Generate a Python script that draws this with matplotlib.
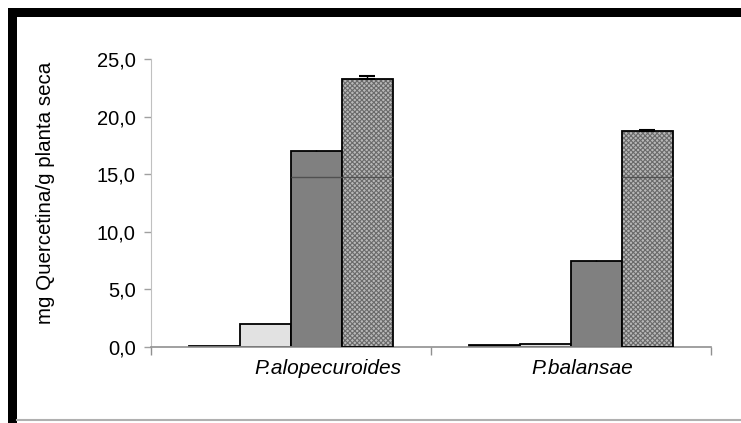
# Quercetina content per species - bar chart
import matplotlib.pyplot as plt
import matplotlib.transforms as mtransforms
import numpy as np

plt.rcParams['font.family'] = ['Liberation Sans', 'DejaVu Sans']
plt.rcParams['hatch.linewidth'] = 0.8

# data
species = ['P.alopecuroides', 'P.balansae']
values = [
    [0.08, 0.15],   # serie 1 (black)
    [2.0, 0.29],    # serie 2 (light grey)
    [17.04, 7.47],  # serie 3 (grey)
    [23.26, 18.75], # serie 4 (checkered)
]
errors = [
    [0.0, 0.0],
    [0.0, 0.0],
    [0.1, 0.1],
    [0.3, 0.12],
]
yticks = [0, 5, 10, 15, 20, 25]
ytick_labels = ['0,0', '5,0', '10,0', '15,0', '20,0', '25,0']
label_shift_px = [37, 11]
scan_line = 14.77

# DEFINE PLOT PROPERTIES
fig = plt.figure(figsize=(7.41, 4.23), dpi=100)
ax = fig.add_axes([151/741, 1-347/423, (711-151)/741, (347-59)/423])

x = np.arange(len(species))
width = 0.182
faces = ['black', '#e2e2e2', '#808080', '#b8b8b8']
caps = [0, 0, 0, 6]

for i, vals in enumerate(values):
    pos = x + (i - 1.5) * width
    if i == 3:
        ax.bar(pos, vals, width, color=faces[i], edgecolor='#6a6a6a',
               linewidth=0, hatch='xxxxxxx', zorder=2)
        ax.bar(pos, vals, width, color='none', edgecolor='black',
               linewidth=1.3, zorder=3)
    else:
        ax.bar(pos, vals, width, color=faces[i], edgecolor='black',
               linewidth=1.3, zorder=2)
    ax.errorbar(pos, vals, yerr=[np.zeros(len(vals)), errors[i]], fmt='none',
                ecolor='black', elinewidth=1, capsize=caps[i], capthick=1.5, zorder=4)
    # scanned horizontal line across tall bars
    for p, v in zip(pos, vals):
        if v > scan_line:
            ax.hlines(scan_line, p - width/2, p + width/2, color='#505050',
                      linewidth=1, zorder=5)

# AXES
ax.set_xlim(-0.5, 1.5)
ax.set_ylim(0, 25)
ax.set_yticks(yticks)
ax.set_yticklabels(ytick_labels, fontsize=14.5)
ax.tick_params(axis='y', length=5, width=1, color='#a0a0a0', pad=6)
ax.set_xticks([-0.5, 0.5, 1.5])
ax.set_xticklabels([])
ax.set_xticks(x, minor=True)
ax.set_xticklabels(species, minor=True, fontsize=15, style='italic')
ax.tick_params(axis='x', which='major', length=6, width=1, color='#909090')
ax.tick_params(axis='x', which='minor', length=0, pad=9)
for lab, dx in zip(ax.get_xticklabels(minor=True), label_shift_px):
    lab.set_transform(lab.get_transform() + mtransforms.ScaledTranslation(dx/100, 0, fig.dpi_scale_trans))

ax.spines['top'].set_visible(False)
ax.spines['right'].set_visible(False)
ax.spines['left'].set_color('#c0c0c0')
ax.spines['bottom'].set_color('#909090')
ax.spines['bottom'].set_linewidth(1.2)

fig.text(46/741, 1-193/423, 'mg Quercetina/g planta seca', rotation=90,
         ha='center', va='center', fontsize=14.8)

# frame of the scanned figure
fig.add_artist(plt.Rectangle((8/741, 1-17/423), 1, 9/423, transform=fig.transFigure,
                             color='black', lw=0))
fig.add_artist(plt.Rectangle((8/741, 0), 9/741, 1-8/423, transform=fig.transFigure,
                             color='black', lw=0))
fig.add_artist(plt.Line2D([17/741, 1], [1-420/423, 1-420/423], transform=fig.transFigure,
                          color='#b0b0b0', lw=1.5))

fig.savefig('out.png', dpi=100)
